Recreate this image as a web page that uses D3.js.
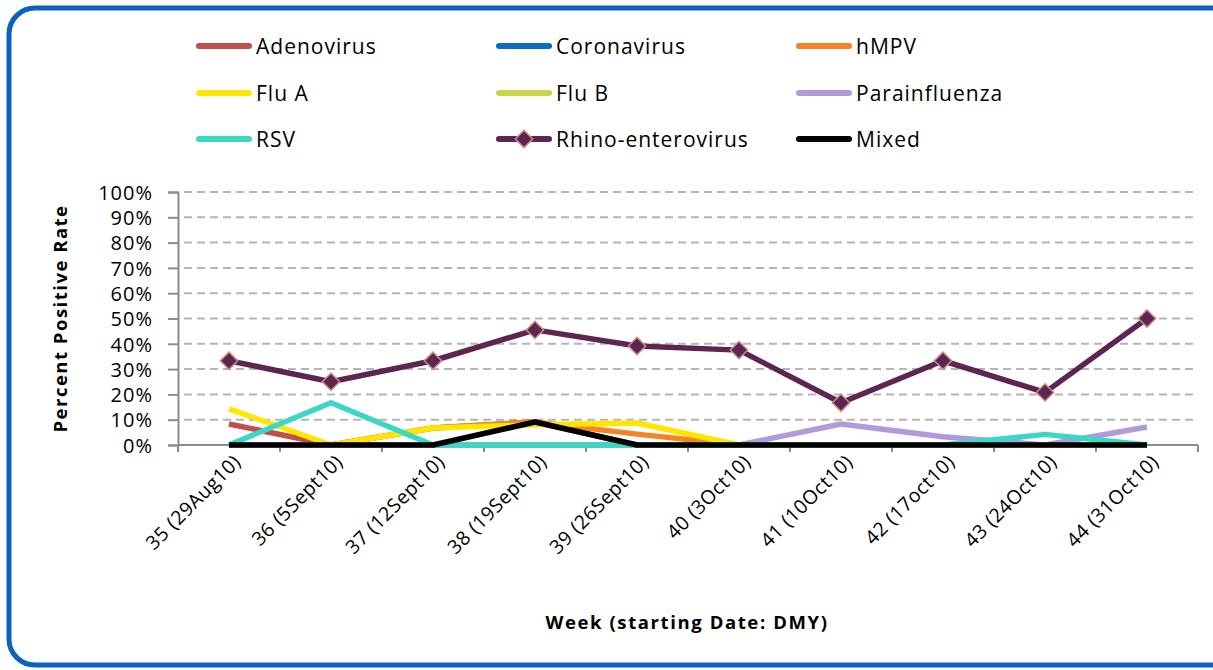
<!DOCTYPE html>
<html>
<head>
<meta charset="utf-8">
<script src="https://cdn.jsdelivr.net/npm/d3@7"></script>
<style>
  body { margin: 0; background: #fff; }
  text { font-family: "Open Sans", Lato, sans-serif; fill: #000; }
</style>
</head>
<body>
<script>
// weeks and tick labels
var weeks = ["35 (29Aug10)", "36 (5Sept10)", "37 (12Sept10)", "38 (19Sept10)", "39 (26Sept10)",
             "40 (3Oct10)", "41 (10Oct10)", "42 (17oct10)", "43 (24Oct10)", "44 (31Oct10)"];
var yTicks = [0, 0.1, 0.2, 0.3, 0.4, 0.5, 0.6, 0.7, 0.8, 0.9, 1.0];

// percent positive per week (fractions)
var adenovirus    = [0.083, 0, 0.067, 0.091, 0, 0, 0, 0, 0, 0];
var coronavirus   = [0, 0, 0, 0, 0, 0, 0, 0, 0, 0];
var hMPV          = [0, 0, 0.067, 0.091, 0.043, 0, 0, 0, 0, 0];
var fluA          = [0.143, 0, 0.067, 0.08, 0.087, 0, 0, 0, 0, 0];
var fluB          = [0, 0, 0, 0, 0, 0, 0, 0, 0, 0];
var parainfluenza = [0, 0, 0, 0, 0, 0, 0.083, 0.033, 0, 0.071];
var rsv           = [0, 0.167, 0, 0, 0, 0, 0, 0, 0.042, 0];
var rhino         = [0.333, 0.25, 0.333, 0.455, 0.391, 0.375, 0.167, 0.333, 0.208, 0.50];
var mixed         = [0, 0, 0, 0.091, 0, 0, 0, 0, 0, 0];

var series = [
  { name: "Adenovirus",         values: adenovirus,    color: "#C0504D" },
  { name: "Coronavirus",        values: coronavirus,   color: "#0A6CC4" },
  { name: "hMPV",               values: hMPV,          color: "#F58426" },
  { name: "Flu A",              values: fluA,          color: "#FFE600" },
  { name: "Flu B",              values: fluB,          color: "#CAD64B" },
  { name: "Parainfluenza",      values: parainfluenza, color: "#B09BDA" },
  { name: "RSV",                values: rsv,           color: "#3CD6C4" },
  { name: "Rhino-enterovirus",  values: rhino,         color: "#5C2552", marker: true },
  { name: "Mixed",              values: mixed,         color: "#000000" }
];

var W = 1213, H = 670;
var plot = { left: 178, right: 1198, top: 192, bottom: 445 };

var svg = d3.select("body").append("svg")
  .attr("width", W).attr("height", H);

// blue rounded frame
svg.append("rect")
  .attr("x", 9).attr("y", 8)
  .attr("width", 1230).attr("height", 657)
  .attr("rx", 26).attr("ry", 26)
  .attr("fill", "none")
  .attr("stroke", "#0A63BE")
  .attr("stroke-width", 5);

var x = d3.scaleBand().domain(weeks).range([plot.left, plot.right]);
var y = d3.scaleLinear().domain([0, 1]).range([plot.bottom, plot.top]);

// gridlines
svg.append("g").selectAll("line")
  .data(yTicks.filter(function(d){ return d > 0; }))
  .enter().append("line")
  .attr("x1", plot.left + 6).attr("x2", plot.right)
  .attr("y1", function(d){ return y(d); })
  .attr("y2", function(d){ return y(d); })
  .attr("stroke", "#B5B5B5")
  .attr("stroke-width", 2)
  .attr("stroke-dasharray", "8,5");

// y axis
var yAxis = d3.axisLeft(y).tickValues(yTicks)
  .tickFormat(d3.format(".0%")).tickSize(10).tickPadding(15);
var gy = svg.append("g")
  .attr("transform", "translate(" + plot.left + ",0)")
  .call(yAxis);
gy.select(".domain").attr("stroke", "#8C8C8C").attr("stroke-width", 2);
gy.selectAll(".tick line").attr("stroke", "#8C8C8C").attr("stroke-width", 2);
gy.selectAll(".tick text")
  .style("font-size", "20px").style("letter-spacing", "1px")
  .attr("dy", "0.36em");

// x axis: ticks on band edges
var gx = svg.append("g").attr("transform", "translate(0," + plot.bottom + ")");
gx.append("line")
  .attr("x1", plot.left).attr("x2", plot.right)
  .attr("stroke", "#8C8C8C").attr("stroke-width", 2);
gx.selectAll("line.edge")
  .data(weeks.map(function(d){ return x(d); }).concat([plot.right]))
  .enter().append("line").attr("class", "edge")
  .attr("x1", function(d){ return d; }).attr("x2", function(d){ return d; })
  .attr("y1", 0).attr("y2", 7)
  .attr("stroke", "#8C8C8C").attr("stroke-width", 2);
gx.selectAll("text")
  .data(weeks)
  .enter().append("text")
  .attr("text-anchor", "end")
  .attr("transform", function(d){
    return "translate(" + (x(d) + x.bandwidth() / 2 + 13) + ",18) rotate(-45)";
  })
  .style("font-size", "19.5px").style("letter-spacing", "0.5px")
  .text(function(d){ return d; });

// axis titles
svg.append("text")
  .attr("transform", "translate(67," + ((plot.top + plot.bottom) / 2) + ") rotate(-90)")
  .attr("text-anchor", "middle")
  .style("font-size", "18.5px").style("font-weight", "bold").style("letter-spacing", "1.5px")
  .text("Percent Positive Rate");

svg.append("text")
  .attr("x", 687).attr("y", 629)
  .attr("text-anchor", "middle")
  .style("font-size", "18.5px").style("font-weight", "bold").style("letter-spacing", "1.6px")
  .text("Week (starting Date: DMY)");

// lines
var line = d3.line()
  .x(function(d, i){ return x(weeks[i]) + x.bandwidth() / 2; })
  .y(function(d){ return y(d); });

series.forEach(function(s){
  svg.append("path")
    .datum(s.values)
    .attr("d", line)
    .attr("fill", "none")
    .attr("stroke", s.color)
    .attr("stroke-width", 5.5)
    .attr("stroke-linejoin", "round");
  if (s.marker) {
    svg.append("g").selectAll("path")
      .data(s.values)
      .enter().append("path")
      .attr("d", d3.symbol().type(d3.symbolSquare).size(150))
      .attr("transform", function(d, i){
        return "translate(" + (x(weeks[i]) + x.bandwidth() / 2) + "," + y(d) + ") rotate(45)";
      })
      .attr("fill", s.color)
      .attr("stroke", "#C98C82")
      .attr("stroke-width", 1.5);
  }
});

// legend: 3 columns
var legend = svg.append("g");
var colX = [196, 496, 796], rowY = [46, 93, 139];
series.forEach(function(s, i){
  var gx0 = colX[i % 3], gy0 = rowY[Math.floor(i / 3)];
  var g = legend.append("g").attr("transform", "translate(" + gx0 + "," + gy0 + ")");
  g.append("line")
    .attr("x1", 3).attr("x2", 53)
    .attr("stroke", s.color).attr("stroke-width", 6)
    .attr("stroke-linecap", "round");
  if (s.marker) {
    g.append("path")
      .attr("d", d3.symbol().type(d3.symbolSquare).size(150))
      .attr("transform", "translate(28,0) rotate(45)")
      .attr("fill", s.color)
      .attr("stroke", "#C98C82").attr("stroke-width", 1.5);
  }
  g.append("text")
    .attr("x", 60).attr("dy", "0.4em")
    .style("font-size", "21px").style("letter-spacing", "1px")
    .text(s.name);
});
</script>
</body>
</html>
